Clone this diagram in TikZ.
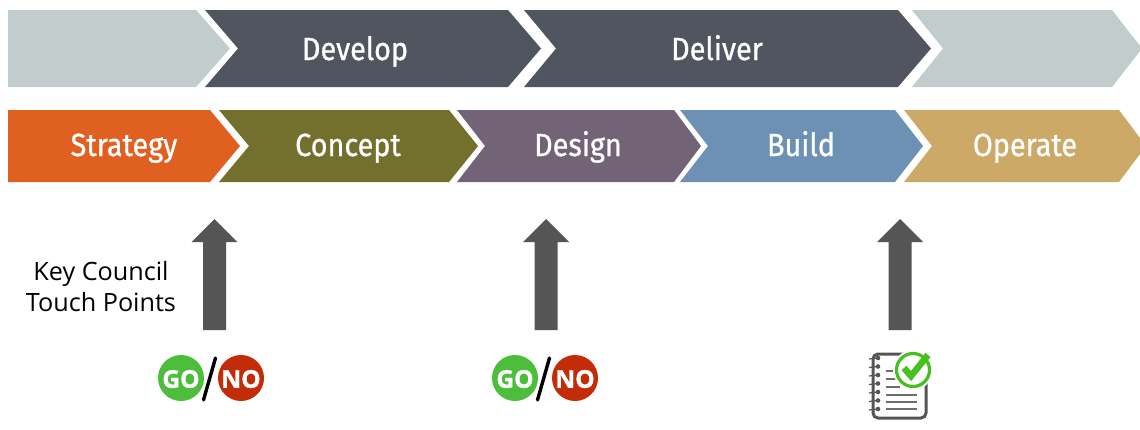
\documentclass[tikz,border=0pt]{standalone}
\usepackage{fontspec}
\setmainfont{Open Sans}
\newfontfamily\chevfont[FakeStretch=0.9,FakeBold=0.8]{Fira Sans}
\newfontfamily\badgefont[FakeBold=1.2]{Open Sans}
\definecolor{cgray}{HTML}{C3CCCD}
\definecolor{cdark}{HTML}{51555F}
\definecolor{corange}{HTML}{E06022}
\definecolor{colive}{HTML}{72702C}
\definecolor{cplum}{HTML}{726376}
\definecolor{cblue}{HTML}{6C91B5}
\definecolor{ctan}{HTML}{CCA966}
\definecolor{cup}{HTML}{555555}
\definecolor{cgo}{HTML}{4DBE3C}
\definecolor{cno}{HTML}{C22C08}
\definecolor{ccheck}{HTML}{45C01E}
\tikzset{
  x=1pt,y=-1pt,
  chevlabel/.style={text=white,font=\chevfont\fontsize{32}{34}\selectfont,inner sep=0pt,anchor=base},
  badgetext/.style={text=white,font=\badgefont\fontsize{24.5}{26}\selectfont\bfseries,inner sep=0pt},
  nbline/.style={draw=cup!85,line width=2.2pt},
  nbring/.style={draw=cup,line width=1.2pt},
}
\newcommand{\chev}[8]{% colour, left, notch(or left), shoulder, tip, top, mid, bottom
  \fill[#1] (#2,#6) -- (#4,#6) -- (#5,#7) -- (#4,#8) -- (#2,#8) -- (#3,#7) -- cycle;}
\newcommand{\uparr}[1]{%
  \fill[cup] (#1-11.5,330) -- (#1-11.5,242) -- (#1-23,242) -- (#1,219) -- (#1+23,242) -- (#1+11.5,242) -- (#1+11.5,330) -- cycle;}
\newcommand{\gonogo}[1]{%
  \fill[cgo] (#1,378) circle (23);
  \fill[cno] (#1+60,378) circle (23);
  \draw[black,line width=3.4pt,line cap=round] (#1+34.5,358) -- (#1+22.5,400);
  \node[badgetext] at (#1,379) {GO};
  \node[badgetext] at (#1+60,379) {NO};}
\begin{document}
\begin{tikzpicture}
\useasboundingbox (0,0) rectangle (1140,429);
\fill[white] (0,0) rectangle (1140,429);
% top row
\chev{cgray}{8}{8}{196}{230}{10}{48.5}{87}
\chev{cdark}{205}{238}{508}{541}{10}{48.5}{87}
\chev{cdark}{524}{556}{898}{931}{10}{48.5}{87}
\chev{cgray}{912}{943}{1112}{1142}{10}{48.5}{87}
\node[chevlabel] (develop) at (355,60) {Develop};
\node[chevlabel] (deliver) at (717,60) {Deliver};
% bottom row
\chev{corange}{8}{8}{210}{240}{110}{146}{182}
\chev{colive}{219}{249}{449}{478}{110}{146}{182}
\chev{cplum}{457}{485}{674}{701}{110}{146}{182}
\chev{cblue}{680}{708}{895}{923}{110}{146}{182}
\chev{ctan}{904}{932}{1119}{1146}{110}{146}{182}
\node[chevlabel] (strategy) at (124,156) {Strategy};
\node[chevlabel] (concept) at (348,156) {Concept};
\node[chevlabel] (design) at (578,156) {Design};
\node[chevlabel] (build) at (801,156) {Build};
\node[chevlabel] (operate) at (1025,156) {Operate};
% arrows
\uparr{214.5}
\uparr{546}
\uparr{900}
\node[align=center,font=\fontsize{25.2}{31}\selectfont,inner sep=0pt,text=black] (touch) at (101,286.5) {Key Council\\Touch Points};
% go/no
\gonogo{181}
\gonogo{515}
% checklist
\draw[draw=cup,line width=3pt,rounded corners=5pt,fill=white] (873,354) rectangle (926,418);
\foreach \yy in {358,366.5,375,383.5,392,400.5,409}{
  \draw[nbring] (869,\yy+1) -- (878,\yy);
  \fill[cup] (878,\yy) circle (2.3);
}
\draw[nbline] (886,371) -- (893,371);
\draw[nbline] (886,379) -- (898,379);
\draw[nbline] (886,387) -- (900,387);
\draw[nbline] (886,395) -- (917,395);
\draw[nbline] (886,402) -- (917,402);
\draw[nbline] (886,409) -- (917,409);
\fill[white] (913,370) circle (20);
\draw[ccheck,line width=3.2pt] (913,370) circle (16.5);
\draw[ccheck,line width=6.5pt,line join=miter] (904,368) -- (911,376) -- (928,355);
\end{tikzpicture}
\end{document}
